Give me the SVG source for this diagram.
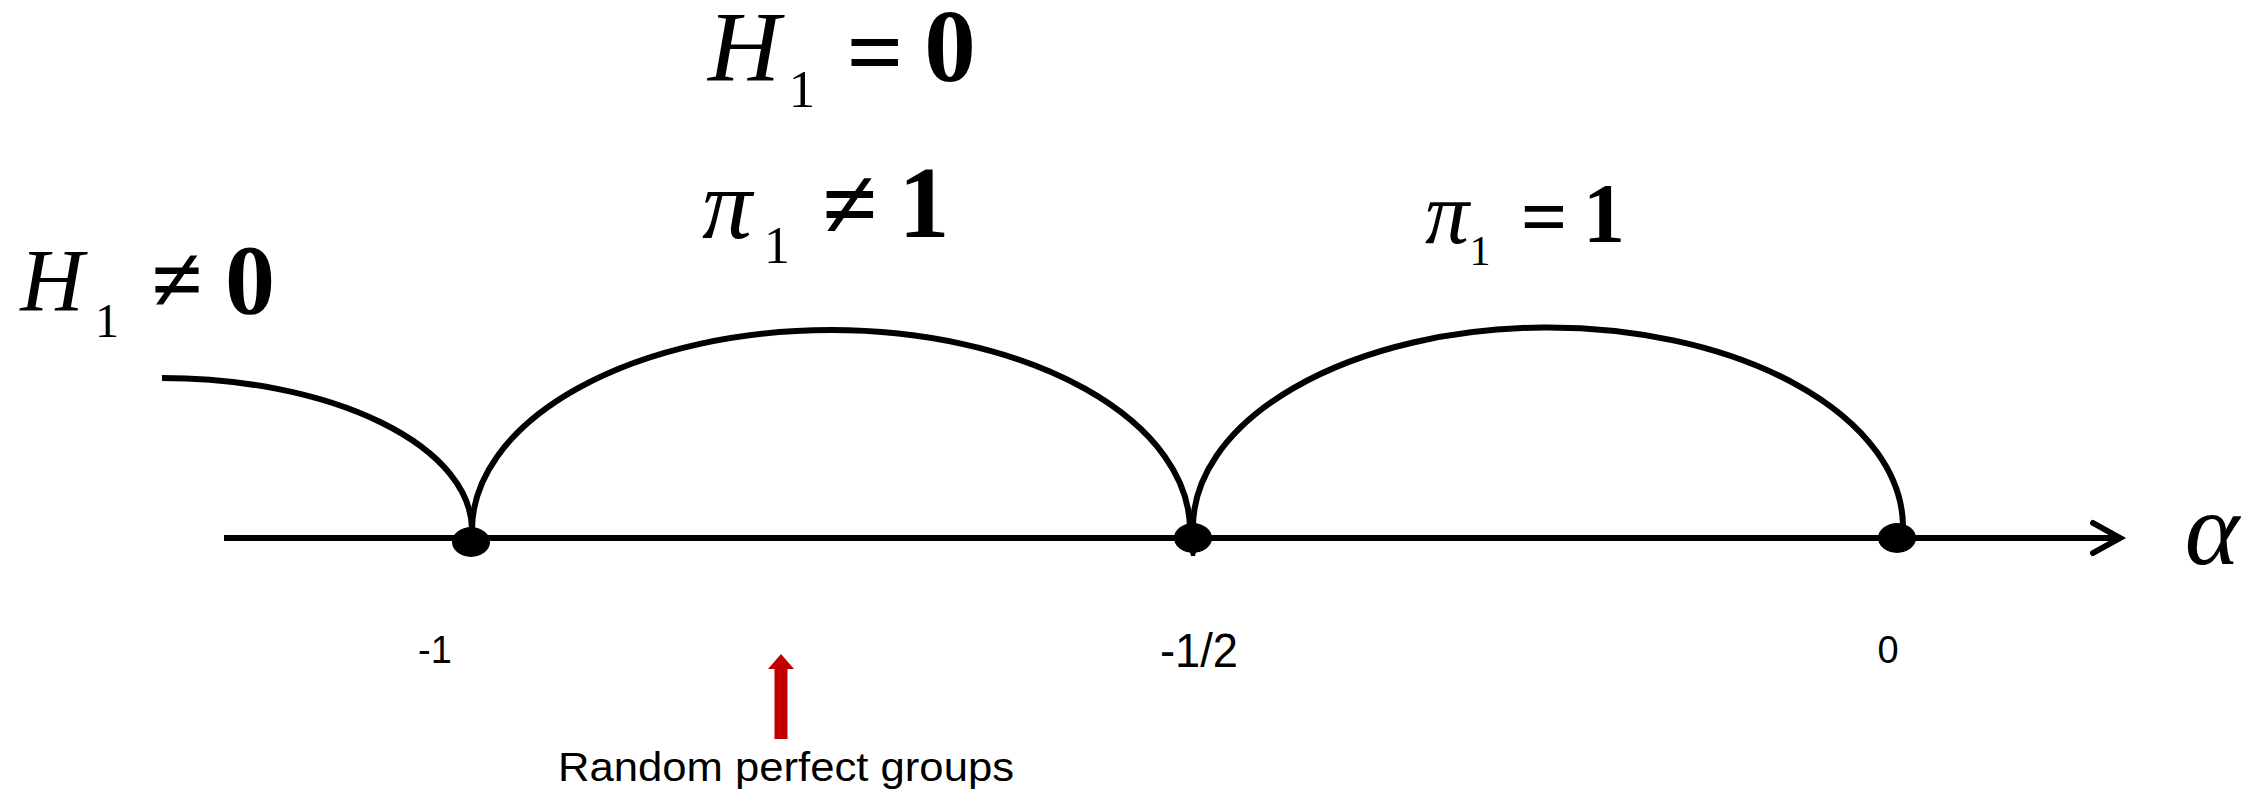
<svg xmlns="http://www.w3.org/2000/svg" width="2263" height="793" viewBox="0 0 2263 793">
<style>
.ln{fill:none;stroke:#000;stroke-width:6}
.dot{fill:#000}
.mi{font-family:"Liberation Serif","Times New Roman",serif;font-style:italic;fill:#000;text-anchor:middle}
.mr{font-family:"Liberation Serif","Times New Roman",serif;fill:#000;text-anchor:middle}
.mb{font-family:"Liberation Serif","Times New Roman",serif;font-weight:bold;fill:#000;text-anchor:middle}
.lbl{font-family:"Liberation Sans",Arial,sans-serif;fill:#000;text-anchor:middle}
</style>
<rect width="2263" height="793" fill="#fff"/>
<g id="connectors">
<line class="ln" x1="224" y1="538" x2="2119" y2="538"/>
<polyline class="ln" points="2093,523 2120,538 2093,553" stroke-linecap="round"/>
<path class="ln" d="M162,378 A310,152 0 0 1 472,530"/>
<path class="ln" d="M472,530 A359,200 0 0 1 1190,530"/>
<path class="ln" d="M1193,530 A355,200 0 0 1 1903,525"/>
</g>
<g id="node-m1">
<ellipse class="dot" cx="471" cy="542" rx="19" ry="15"/>
<text class="lbl" x="435" y="663" font-size="38">-1</text>
</g>
<g id="node-mhalf">
<ellipse class="dot" cx="1193" cy="538" rx="19" ry="15"/>
<path class="dot" d="M1189,548 L1197,548 L1195,556 L1191,556 Z"/>
<text class="lbl" x="1199" y="667" font-size="48" textLength="78" lengthAdjust="spacingAndGlyphs">-1/2</text>
</g>
<g id="node-zero">
<ellipse class="dot" cx="1897" cy="538" rx="19" ry="15"/>
<text class="lbl" x="1888" y="663" font-size="38">0</text>
</g>
<g id="label-alpha">
<text class="mi" x="2212" y="564" font-size="104">α</text>
</g>
<g id="label-H-neq">
<text class="mi" x="52" y="310" font-size="88">H</text>
<text class="mr" x="107" y="337" font-size="48">1</text>
<text class="mb" x="177" y="311" font-size="93">≠</text>
<text class="mb" x="250" y="313" font-size="100">0</text>
</g>
<g id="label-H-eq">
<text class="mi" x="744" y="80" font-size="100">H</text>
<text class="mr" x="802" y="107" font-size="53">1</text>
<text class="mb" x="875" y="86" font-size="100">=</text>
<text class="mb" x="950" y="81" font-size="103">0</text>
</g>
<g id="label-pi-neq">
<text class="mi" x="727" y="238" font-size="100">π</text>
<text class="mr" x="777" y="263" font-size="52">1</text>
<text class="mb" x="850" y="238" font-size="100">≠</text>
<text class="mb" x="924" y="237" font-size="102">1</text>
</g>
<g id="label-pi-eq">
<text class="mi" x="1447" y="243" font-size="88">π</text>
<text class="mr" x="1480" y="265" font-size="42">1</text>
<text class="mb" x="1544" y="244" font-size="82">=</text>
<text class="mb" x="1604" y="242" font-size="84">1</text>
</g>
<g id="random-perfect">
<polygon fill="#C00000" points="781,654 794,669 787.5,669 787.5,739 774.5,739 774.5,669 768,669"/>
<text class="lbl" x="558" y="781" font-size="40" textLength="456" lengthAdjust="spacingAndGlyphs" style="text-anchor:start">Random perfect groups</text>
</g>
</svg>
